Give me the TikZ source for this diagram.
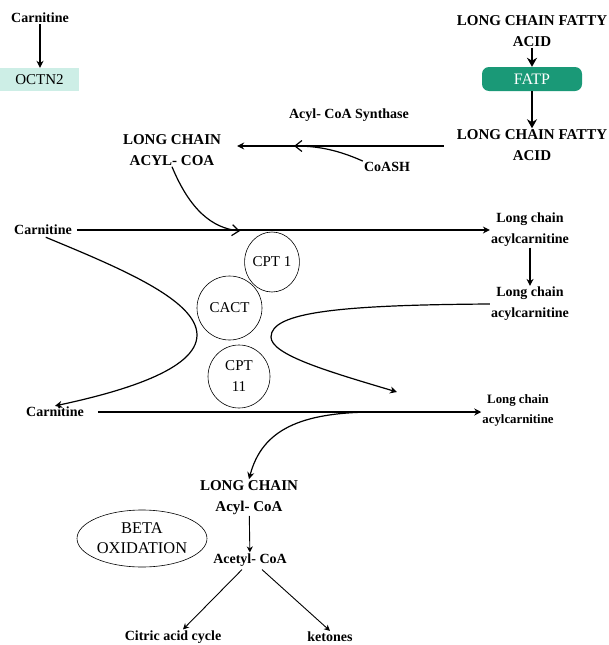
\documentclass[tikz,border=0pt]{standalone}
\usepackage{fontspec}
\setmainfont{Liberation Serif}
\usetikzlibrary{arrows.meta,positioning,calc,shapes.geometric}
\definecolor{octncol}{HTML}{CDEEE6}
\definecolor{fatpcol}{HTML}{1A9977}

\begin{document}
\begin{tikzpicture}[x=1pt,y=-1pt,
  lbl/.style={font=\bfseries\fontsize{14}{21}\selectfont, align=center, inner sep=1pt},
  big/.style={lbl, font=\bfseries\fontsize{15}{21}\selectfont},
  sml/.style={lbl, font=\bfseries\fontsize{12.8}{20}\selectfont},
  enz/.style={draw, ellipse, line width=0.6pt, inner sep=0pt, align=center, font=\fontsize{15}{21}\selectfont},
  flow/.style={-{Stealth[length=7pt,width=7pt]}, line width=1.2pt},
  thin flow/.style={-{Stealth[length=6pt,width=6pt]}, line width=0.9pt},
  barb/.style={-{Straight Barb[length=7pt,width=11pt]}, line width=1.2pt}]
\useasboundingbox (0,0) rectangle (609,645);

% uptake
\node[lbl] (carn1) at (40,18) {Carnitine};
\node[fill=octncol, minimum width=79pt, minimum height=23pt, inner sep=0pt, font=\fontsize{15}{18}\selectfont] (octn) at (39.5,79.5) {OCTN2};
\node[big] (lcfa1) at (532,31) {LONG CHAIN FATTY\\ACID};
\node[fill=fatpcol, text=white, rounded corners=7pt, minimum width=100pt, minimum height=24pt, inner sep=0pt, font=\fontsize{16}{18}\selectfont] (fatp) at (532,79) {FATP};
\node[big] (lcfa2) at (532,145) {LONG CHAIN FATTY\\ACID};
\node[lbl] (synth) at (349,115) {Acyl- CoA Synthase};
\node[lbl] (coash) at (387,167) {CoASH};
\node[big] (acylcoa) at (172,150) {LONG CHAIN\\ACYL- COA};

\draw[flow] (carn1) -- (octn.north -| carn1);
\draw[-{Stealth[length=9pt,width=10pt]}, line width=2.2pt] (lcfa1) -- (fatp.north);
\draw[-{Stealth[length=9pt,width=10pt]}, line width=2.2pt] (fatp.south) -- (lcfa2);
\draw[flow, shorten <=12pt, shorten >=15pt] (lcfa2.west |- 0,146) -- (acylcoa.east |- 0,146);
\coordinate (j1) at (294,146);
\draw[barb] (coash.north west) .. controls (338,150) and (318,146) .. (j1);

% membrane transport
\node[lbl] (carn2) at (43,230) {Carnitine};
\node[lbl] (lcac1) at (530,229.5) {Long chain\\acylcarnitine};
\node[lbl] (lcac2) at (530,304) {Long chain\\acylcarnitine};
\node[lbl] (carn3) at (55,412) {Carnitine};
\node[sml] (lcac3) at (518,410) {Long chain\\acylcarnitine};
\node[enz, minimum width=50pt, minimum height=60pt] (cpt1) at (272,262) {CPT 1};
\node[enz, minimum width=65pt, minimum height=64pt] (cact) at (229.5,308) {CACT};
\node[enz, minimum width=62pt, minimum height=63pt] (cpt2) at (239,376.5) {CPT\\11};

\draw[flow, shorten <=4pt] (carn2) -- (lcac1.west |- carn2);
\coordinate (j2) at (240,231);
\draw[barb] (acylcoa.south) .. controls (190,210) and (212,228) .. (j2);
\draw[flow] (lcac1) -- (lcac2);
\draw[flow, shorten <=3pt] (carn2.south) .. controls (120,268) and (197,300) .. (197,335)
  .. controls (197,370) and (120,392) .. (carn3.north);
\coordinate (j4) at (397,392);
\draw[flow] (lcac2.west) .. controls (340,305) and (271,312) .. (271,337)
  .. controls (271,355) and (330,372) .. (j4);
\draw[flow, shorten <=13pt] (carn3) -- (lcac3.west |- carn3);

% mitochondrial matrix
\node[big] (lcacoa) at (249,497.5) {LONG CHAIN\\Acyl- CoA};
\node[lbl] (acetyl) at (250,560) {Acetyl- CoA};
\node[lbl] (tca) at (173,637) {Citric acid cycle};
\node[lbl] (keto) at (330,637) {ketones};
\node[draw, ellipse, line width=0.6pt, minimum width=130pt, minimum height=57pt, inner sep=0pt, align=center, font=\fontsize{16.4}{20}\selectfont] (beta) at (142,538.5) {BETA\\OXIDATION};

\coordinate (j3) at (376,412);
\draw[flow] (j3) .. controls (300,412) and (262,430) .. (lcacoa.north);
\draw[thin flow] (lcacoa) -- (acetyl);
\draw[thin flow] ($(acetyl.south)+(-8,2)$) -- (tca.north -| 183,0);
\draw[thin flow] ($(acetyl.south)+(12,2)$) -- (keto.north);
\end{tikzpicture}
\end{document}
